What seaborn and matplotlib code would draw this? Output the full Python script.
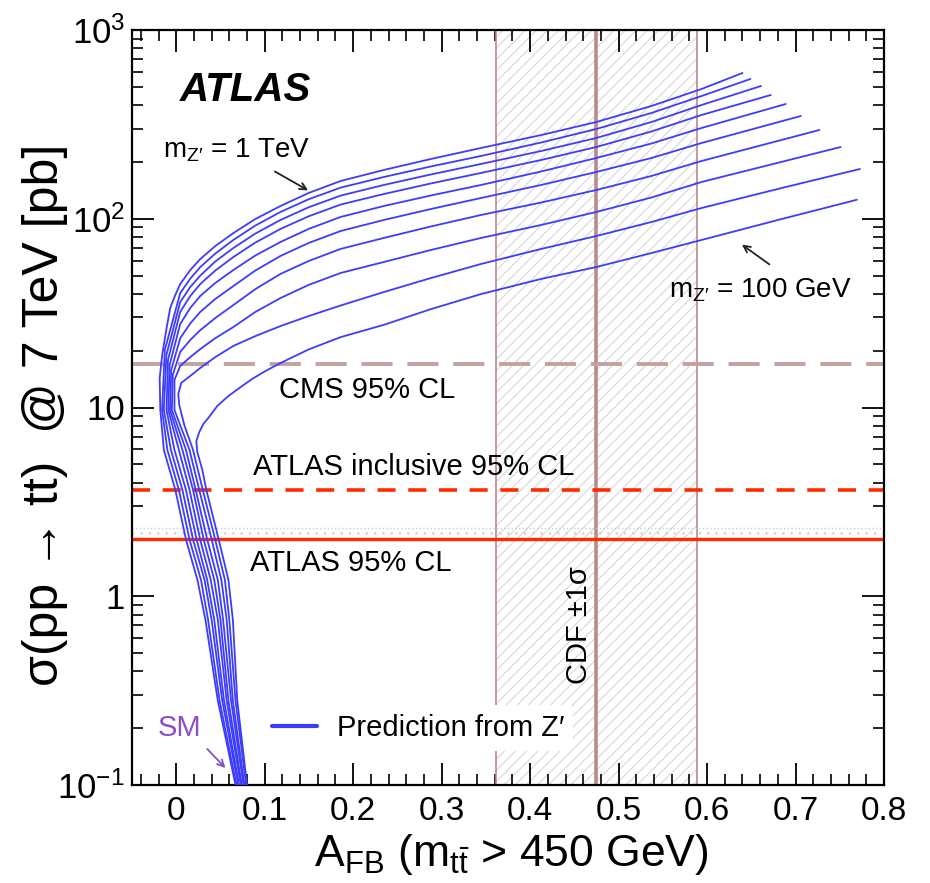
import numpy as np
import pandas as pd
import matplotlib
matplotlib.use('Agg')
import matplotlib.pyplot as plt
import seaborn as sns
from matplotlib.lines import Line2D
from matplotlib.ticker import MultipleLocator, LogLocator, FuncFormatter, NullFormatter

# ---------------- data ----------------
MASSES_GEV = [1000, 900, 800, 700, 600, 500, 400, 300, 200, 100]

# lower (merged) bundle: common sigma levels, per-curve A_FB
BUNDLE_Y = [0.10, 0.28, 0.75, 1.22, 2.0, 3.66, 5.96]
c0_low_x = [0.067, 0.047, 0.033, 0.024, 0.011, -0.001, -0.014]
c1_low_x = [0.068, 0.049, 0.036, 0.028, 0.015, 0.003, -0.010]
c2_low_x = [0.070, 0.052, 0.040, 0.032, 0.019, 0.007, -0.006]
c3_low_x = [0.071, 0.054, 0.043, 0.035, 0.023, 0.011, -0.002]
c4_low_x = [0.073, 0.057, 0.047, 0.039, 0.027, 0.015, 0.003]
c5_low_x = [0.074, 0.059, 0.050, 0.043, 0.031, 0.019, 0.007]
c6_low_x = [0.076, 0.062, 0.053, 0.047, 0.035, 0.022, 0.011]
c7_low_x = [0.077, 0.064, 0.057, 0.051, 0.040, 0.026, 0.015]

# turning points (leftmost part) of the heavy-Z' curves
c0_turn_x = [-0.018, -0.0187, -0.0159, -0.0113, -0.0068, -0.0011]
c0_turn_y = [9.7, 14.3, 19.0, 25.7, 33.7, 39.4]
c1_turn_x, c1_turn_y = [-0.016, -0.0129], [9.7, 20.2]
c2_turn_x, c2_turn_y = [-0.014, -0.0111], [9.7, 19.0]
c3_turn_x, c3_turn_y = [-0.011, -0.0093], [9.7, 17.9]
c4_turn_x, c4_turn_y = [-0.009, -0.0075], [9.7, 16.8]
c5_turn_x, c5_turn_y = [-0.007, -0.0057], [9.7, 15.8]
c6_turn_x, c6_turn_y = [-0.005, -0.0039], [9.7, 14.9]
c7_turn_x, c7_turn_y = [-0.002, -0.0020], [9.7, 14.0]

# upper branches read at common A_FB positions
UPPER_X = [0.0045, 0.0159, 0.0272, 0.0442, 0.0646, 0.0895, 0.1178, 0.1496,
           0.1858, 0.2346, 0.2878, 0.3445, 0.4125, 0.4748, 0.5371, 0.5938]
c0_up_y = [45.1, 53.5, 61.2, 71.7, 84.0, 99.7, 116.8, 136.9, 158.5, 181.3, 207.3, 237.1, 277.6, 325.5, 395.7, 486.9]
c1_up_y = [40.4, 48.2, 55.5, 65.4, 77.2, 92.1, 108.6, 126.8, 146.2, 166.4, 189.2, 215.1, 253.5, 298.9, 363.4, 447.0]
c2_up_y = [36.2, 43.5, 50.0, 59.4, 70.0, 83.5, 98.5, 115.0, 132.6, 151.0, 171.6, 195.1, 228.5, 267.8, 325.5, 400.5]
c3_up_y = [32.1, 39.0, 45.1, 53.2, 62.7, 74.8, 88.3, 103.0, 118.9, 135.2, 153.8, 174.8, 204.8, 239.9, 290.0, 354.6]
c4_up_y = [27.7, 33.7, 39.0, 45.7, 53.5, 63.9, 75.3, 88.3, 102.2, 116.8, 132.8, 151.0, 178.0, 209.8, 250.4, 302.6]
c5_up_y = [23.3, 27.9, 32.1, 37.6, 44.0, 53.2, 63.5, 74.4, 86.1, 98.5, 112.6, 128.8, 151.0, 176.9, 209.8, 251.9]
c6_up_y = [19.7, 22.8, 25.7, 29.8, 34.9, 42.4, 51.0, 59.7, 69.2, 79.1, 91.0, 104.7, 121.9, 142.0, 168.5, 202.3]
c7_up_y = [16.6, 18.5, 20.4, 23.3, 26.7, 32.1, 38.0, 44.6, 51.6, 59.0, 68.3, 79.1, 92.7, 108.6, 129.6, 156.6]
END_X = [0.640, 0.649, 0.661, 0.672, 0.689, 0.706, 0.727, 0.751]
END_Y = [591.9, 550.1, 505.0, 452.5, 405.5, 350.3, 295.3, 239.9]

# the two light-Z' curves, read point by point
c8_x = [0.079, 0.067, 0.060, 0.055, 0.044, 0.030, 0.019, 0.0091, 0.0034, 0.0023, 0.0057, 0.0159, 0.0272,
        0.0442, 0.0646, 0.0895, 0.1178, 0.1496, 0.1858, 0.2346, 0.2878, 0.3445, 0.4125, 0.4748, 0.5371,
        0.5938, 0.6844, 0.7728]
c8_y = BUNDLE_Y + [8.08, 10.3, 11.8, 13.5, 14.7, 16.2, 18.5, 21.2, 23.9, 27.0, 30.5, 34.7, 40.9, 48.5,
                   57.6, 69.2, 81.0, 96.1, 114.0, 145.5, 183.5]
c9_x = [0.080, 0.069, 0.064, 0.059, 0.048, 0.034, 0.0295, 0.0238, 0.0227, 0.0261, 0.0306, 0.0363, 0.0465,
        0.0589, 0.0725, 0.0861, 0.1008, 0.1178, 0.1496, 0.1858, 0.2346, 0.2878, 0.3445, 0.4125, 0.4748,
        0.5371, 0.5938, 0.6844, 0.7694]
c9_y = BUNDLE_Y[:6] + [4.67, 5.81, 6.65, 7.42, 8.18, 8.80, 10.2, 11.5, 12.8, 14.2, 15.6, 17.2, 20.3, 23.6,
                       27.4, 33.2, 39.9, 48.0, 55.5, 65.8, 77.2, 99.7, 126.1]

LOW_X = [c0_low_x, c1_low_x, c2_low_x, c3_low_x, c4_low_x, c5_low_x, c6_low_x, c7_low_x]
TURN_X = [c0_turn_x, c1_turn_x, c2_turn_x, c3_turn_x, c4_turn_x, c5_turn_x, c6_turn_x, c7_turn_x]
TURN_Y = [c0_turn_y, c1_turn_y, c2_turn_y, c3_turn_y, c4_turn_y, c5_turn_y, c6_turn_y, c7_turn_y]
UP_Y = [c0_up_y, c1_up_y, c2_up_y, c3_up_y, c4_up_y, c5_up_y, c6_up_y, c7_up_y]

CDF_CENTRAL = 0.475
CDF_ERR = 0.114
CMS_LIMIT = 17.0
ATLAS_INCL_LIMIT = 3.66
ATLAS_LIMIT = 2.0
ATLAS_LIMIT_BAND_TOP = 2.3

# ---------------- style ----------------
sns.set_theme(style='ticks')
plt.rcParams['font.family'] = ['Liberation Sans', 'DejaVu Sans']
plt.rcParams['mathtext.fontset'] = 'custom'
plt.rcParams['mathtext.rm'] = 'Liberation Sans'
plt.rcParams['mathtext.it'] = 'Liberation Sans:italic'
plt.rcParams['mathtext.bf'] = 'Liberation Sans:bold'
plt.rcParams['hatch.linewidth'] = 0.7
plt.rcParams['text.color'] = 'black'
plt.rcParams['axes.labelcolor'] = 'black'

BLUE = '#3c3cff'
ROSE = '#b98b8b'
CMS_COL = '#c4a0a0'
RED = '#ff2a00'
PURPLE = '#8a4fc4'

fig = plt.figure(figsize=(9.3, 8.83), dpi=100)
ax = fig.add_axes([132 / 930, 1 - 785 / 883, 752 / 930, 755 / 883])

# CDF band
ax.axvspan(CDF_CENTRAL - CDF_ERR, CDF_CENTRAL + CDF_ERR, facecolor='none',
           edgecolor='#d2d2d2', hatch='///', lw=0, zorder=0)
ax.axvline(CDF_CENTRAL - CDF_ERR, color=ROSE, lw=1.2, zorder=1)
ax.axvline(CDF_CENTRAL + CDF_ERR, color=ROSE, lw=1.2, zorder=1)
ax.axvline(CDF_CENTRAL, color=ROSE, lw=2.6, zorder=1)

# ATLAS limit band and lines
ax.axhspan(ATLAS_LIMIT, ATLAS_LIMIT_BAND_TOP, facecolor='none', edgecolor='#d4d4d4',
           hatch='..', lw=0, zorder=0)
ax.axhline(ATLAS_LIMIT_BAND_TOP, color='#cccccc', lw=1.0, ls=':', zorder=1)
ax.axhline(CMS_LIMIT, color=CMS_COL, lw=2.8, ls=(0, (8, 3.8)), zorder=2)
ax.axhline(ATLAS_INCL_LIMIT, color=RED, lw=2.6, ls=(0, (5, 3.5)), zorder=2)
ax.axhline(ATLAS_LIMIT, color=RED, lw=2.4, zorder=2)

# Z' prediction curves
curves_x, curves_y = [], []
for i in range(8):
    curves_x.append(LOW_X[i] + TURN_X[i] + UPPER_X + [END_X[i]])
    curves_y.append(BUNDLE_Y + TURN_Y[i] + UP_Y[i] + [END_Y[i]])
curves_x += [c8_x, c9_x]
curves_y += [c8_y, c9_y]

rows = []
for m, xs, ys in zip(MASSES_GEV, curves_x, curves_y):
    for k, (xv, yv) in enumerate(zip(xs, ys)):
        rows.append({'x': xv, 'y': yv, 'mass': m, 'k': k})
df = pd.DataFrame(rows)
sns.lineplot(data=df, x='x', y='y', units='mass', estimator=None, sort=False,
             color=BLUE, lw=1.3, ax=ax, legend=False, zorder=3)

# axes
ax.set_yscale('log')
ax.set_xlim(-0.05, 0.8)
ax.set_ylim(0.1, 1000)
ax.xaxis.set_major_locator(MultipleLocator(0.1))
ax.xaxis.set_minor_locator(MultipleLocator(0.02))
ax.xaxis.set_major_formatter(FuncFormatter(lambda v, _: '0' if abs(v) < 1e-9 else f'{v:.1f}'))
ax.yaxis.set_major_locator(LogLocator(base=10, numticks=10))
ax.yaxis.set_minor_locator(LogLocator(base=10, subs=np.arange(2, 10), numticks=20))
ax.yaxis.set_minor_formatter(NullFormatter())
ylab = {-1: r'$\mathregular{10^{-1}}$', 0: '1', 1: '10', 2: r'$\mathregular{10^{2}}$', 3: r'$\mathregular{10^{3}}$'}
ax.yaxis.set_major_formatter(FuncFormatter(lambda v, _: ylab.get(int(round(np.log10(v))), '')))
ax.tick_params(which='both', direction='in', top=True, right=True, colors='black')
ax.tick_params(which='major', length=16, width=1.3)
ax.tick_params(which='minor', length=8, width=1.2)
ax.tick_params(axis='x', which='major', labelsize=24, pad=8)
ax.tick_params(axis='y', which='major', labelsize=25, pad=5)
for s in ax.spines.values():
    s.set_linewidth(1.6)
    s.set_color('black')
ax.grid(False)

ax.set_xlabel(r'$\mathregular{A_{FB}}$ ($\mathregular{m_{t\bar{t}}}$ > 450 GeV)', fontsize=32)
ax.xaxis.set_label_coords(0.505, -0.062)
ax.set_ylabel(r'σ(pp → tt)  @ 7 TeV [pb]', fontsize=36)
ax.yaxis.set_label_coords(-0.085, 0.49)

# annotations
ax.text(0.0045, 481, 'ATLAS', fontsize=29, fontweight='bold', fontstyle='italic', va='center', ha='left')
ax.text(-0.0147, 231, r'm$_{\mathregular{Z′}}$ = 1 TeV', fontsize=20, va='center', ha='left')
ax.annotate('', xy=(0.1518, 139), xytext=(0.1088, 181),
            arrowprops=dict(arrowstyle='->', color='#222222', lw=1.3))
ax.text(0.5575, 41.9, r'm$_{\mathregular{Z′}}$ = 100 GeV', fontsize=20, va='center', ha='left')
ax.annotate('', xy=(0.6368, 74.4), xytext=(0.673, 56.2),
            arrowprops=dict(arrowstyle='->', color='#222222', lw=1.3))
ax.text(0.1156, 12.4, 'CMS 95% CL', fontsize=21, va='center', ha='left')
ax.text(0.0873, 4.84, 'ATLAS inclusive 95% CL', fontsize=21, va='center', ha='left')
ax.text(0.0839, 1.50, 'ATLAS 95% CL', fontsize=21, va='center', ha='left')
ax.text(0.4555, 0.705, 'CDF ±1σ', fontsize=21, rotation=90, va='center', ha='center')
ax.text(-0.0204, 0.200, 'SM', fontsize=21, color=PURPLE, va='center', ha='left')
ax.annotate('', xy=(0.0578, 0.120), xytext=(0.0329, 0.159),
            arrowprops=dict(arrowstyle='->', color=PURPLE, lw=1.3))

handle = Line2D([], [], color=BLUE, lw=3)
leg = ax.legend([handle], ['Prediction from Z′'], loc='center left',
                bbox_to_anchor=(0.174, 0.0755), fontsize=21, frameon=True,
                facecolor='white', edgecolor='none', framealpha=1,
                borderpad=0.3, borderaxespad=0, handlelength=1.55, handletextpad=0.7)
leg.set_zorder(5)

fig.savefig('out.png', dpi=100)
